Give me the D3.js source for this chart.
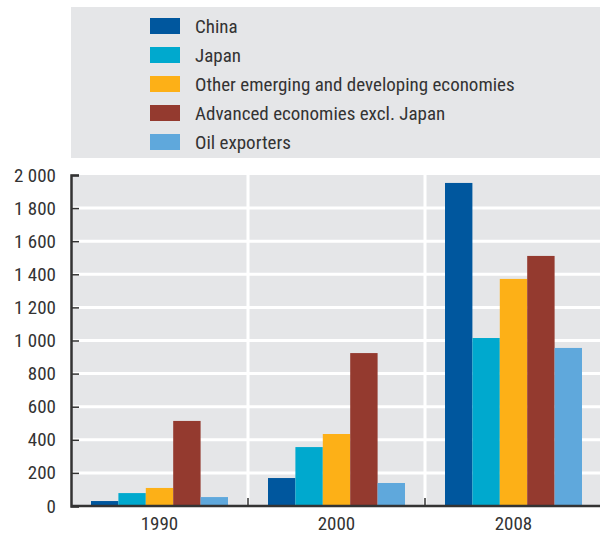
<!DOCTYPE html>
<html>
<head>
<meta charset="utf-8">
<script src="https://cdn.jsdelivr.net/npm/d3@7"></script>
<style>
  body { margin: 0; background: #fff; }
  svg text { font-family: "Liberation Sans Narrow", "Roboto Condensed", "Liberation Sans", sans-serif; fill: #333; }
</style>
</head>
<body>
<div id="chart"></div>
<script>
// categories and series
const years = ["1990", "2000", "2008"];
const seriesNames = ["China", "Japan", "Other emerging and developing economies", "Advanced economies excl. Japan", "Oil exporters"];
const seriesColors = ["#00579e", "#00a9ce", "#fdb017", "#943a2f", "#5fa8dc"];

// values per year, in series order
const china = [30, 169, 1952];
const japan = [78, 356, 1015];
const otherEmerging = [109, 435, 1372];
const advanced = [514, 924, 1511];
const oilExporters = [54, 139, 955];

const yTicks = [0, 200, 400, 600, 800, 1000, 1200, 1400, 1600, 1800, 2000];

const W = 600, H = 534;
const svg = d3.select("#chart").append("svg")
  .attr("width", W)
  .attr("height", H);

const seriesValues = [china, japan, otherEmerging, advanced, oilExporters];
const data = years.map((yr, i) => ({
  year: yr,
  values: seriesNames.map((s, j) => ({ series: s, value: seriesValues[j][i], color: seriesColors[j] }))
}));

// ----- legend -----
const legend = svg.append("g");
legend.append("rect")
  .attr("x", 71).attr("y", 7)
  .attr("width", 529).attr("height", 151)
  .attr("fill", "#e5e6e8");

const legY = d3.scalePoint().domain(seriesNames).range([26, 142]);
const legItems = legend.selectAll(".leg")
  .data(seriesNames)
  .enter().append("g")
  .attr("transform", d => `translate(150,${legY(d)})`);
legItems.append("rect")
  .attr("x", 0).attr("y", -8)
  .attr("width", 30).attr("height", 16)
  .attr("fill", (d, i) => seriesColors[i]);
legItems.append("text")
  .attr("x", 45).attr("y", 7)
  .style("font-size", "19px")
  .text(d => d);

// ----- plot -----
const pLeft = 71, pRight = 600, pTop = 175, pBottom = 506;

const x0 = d3.scaleBand().domain(years).range([pLeft, 602]);
const x1 = d3.scaleBand().domain(seriesNames).range([20, 157]);
const y = d3.scaleLinear().domain([0, 2000]).range([pBottom, pTop]);

svg.append("rect")
  .attr("x", pLeft).attr("y", pTop)
  .attr("width", pRight - pLeft).attr("height", pBottom - pTop)
  .attr("fill", "#e5e6e8");

// horizontal white gridlines
svg.append("g").selectAll("line")
  .data(yTicks.filter(d => d > 0 && d < 2000))
  .enter().append("line")
  .attr("x1", pLeft).attr("x2", pRight)
  .attr("y1", d => y(d)).attr("y2", d => y(d))
  .attr("stroke", "#fff").attr("stroke-width", 3);

// vertical separators between years
const seps = years.slice(1).map(d => x0(d));
svg.append("g").selectAll("line")
  .data(seps)
  .enter().append("line")
  .attr("x1", d => d).attr("x2", d => d)
  .attr("y1", pTop).attr("y2", pBottom)
  .attr("stroke", "#fff").attr("stroke-width", 3);

// bars
const groups = svg.append("g").selectAll("g")
  .data(data)
  .enter().append("g")
  .attr("transform", d => `translate(${x0(d.year)},0)`);
groups.selectAll("rect")
  .data(d => d.values)
  .enter().append("rect")
  .attr("x", d => x1(d.series))
  .attr("width", x1.bandwidth())
  .attr("y", d => y(d.value))
  .attr("height", d => pBottom - y(d.value))
  .attr("fill", d => d.color);

// y axis
const yAxis = svg.append("g")
  .attr("transform", `translate(${pLeft},0)`)
  .call(d3.axisLeft(y).tickValues(yTicks).tickSize(-8).tickPadding(15)
    .tickFormat(d => d3.format(",")(d).replace(/,/g, " ")));
yAxis.select(".domain").attr("stroke", "#333").attr("stroke-width", 2.5);
yAxis.selectAll(".tick line").attr("stroke", "#333").attr("stroke-width", 1.5);
yAxis.selectAll("text").style("font-size", "19px").attr("fill", "#333");

// x axis
const xAxis = svg.append("g")
  .attr("transform", `translate(0,${pBottom})`)
  .call(d3.axisBottom(x0).tickSize(0).tickPadding(11));
xAxis.select(".domain").remove();
xAxis.append("line")
  .attr("x1", pLeft).attr("x2", pRight)
  .attr("y1", 0).attr("y2", 0)
  .attr("stroke", "#333").attr("stroke-width", 2.5);
xAxis.selectAll(".sep-tick")
  .data(seps)
  .enter().append("line")
  .attr("x1", d => d).attr("x2", d => d)
  .attr("y1", 0).attr("y2", -8)
  .attr("stroke", "#333").attr("stroke-width", 1.5);
xAxis.selectAll("text").style("font-size", "19px").attr("fill", "#333");
</script>
</body>
</html>
